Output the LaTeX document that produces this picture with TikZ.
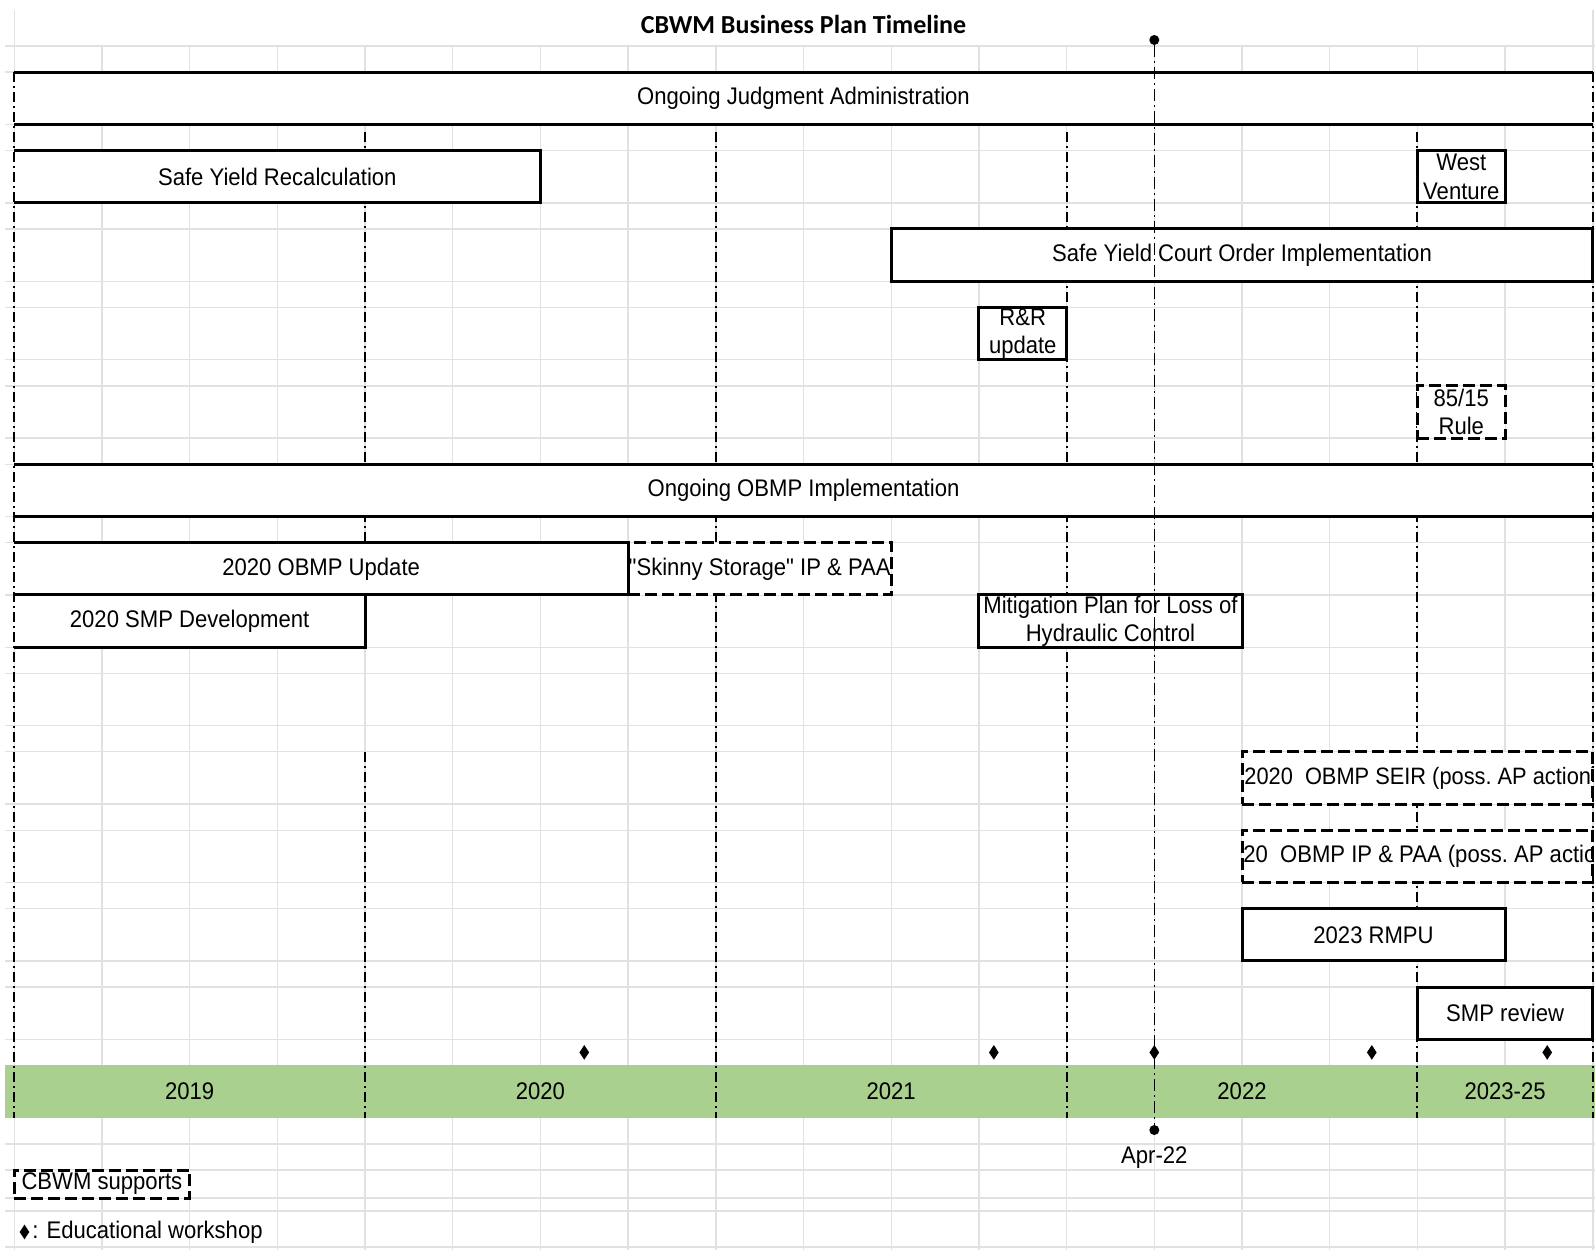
\documentclass[tikz,border=0pt]{standalone}
\usepackage{fontspec}
\setmainfont{Liberation Sans}
\newfontfamily\cellfont[FakeStretch=0.92]{Liberation Sans}
\newfontfamily\titlefont{Carlito}
\usetikzlibrary{positioning,shapes.geometric}
\definecolor{gridgray}{HTML}{E1E1E1}
\definecolor{bandgreen}{HTML}{A9D08E}
\tikzset{
  gridline/.style={draw=gridgray, line width=0.7pt},
  yearline/.style={line width=1pt, dash pattern=on 5pt off 2pt on 1pt off 2pt},
  nowline/.style={line width=0.6pt, dash pattern=on 6pt off 2pt on 1pt off 2pt},
  barline/.style={line width=1.5pt},
  txt/.style={font=\cellfont\fontsize{12}{14.2}\selectfont, inner sep=0pt},
  span/.style 2 args={minimum width=#1*43.85pt, minimum height=#2*13.07pt},
  bar/.style={draw, barline, fill=white, inner sep=0pt, outer sep=0pt, txt, align=center},
  cbwm/.style={bar, dash pattern=on 6pt off 2.5pt},
  openbar/.style={bar, draw=none},
  wshop/.style={diamond, fill=black, inner sep=0pt, minimum width=5pt, minimum height=7.5pt},
  nowdot/.style={circle, fill=black, inner sep=0pt, minimum size=5pt}
}

\begin{document}
\begin{tikzpicture}[x=43.85pt, y=-13.07pt]

\fill[white] (-0.162,-1.76) rectangle (18.025,46.06);
\useasboundingbox (-0.162,-1.76) rectangle (18.025,46.06);

% sheet grid
\foreach \c in {0,...,18}
  \draw[gridline] (\c,0) -- (\c,46.06);
\draw[gridline] (0,-1.38) -- (0,0) (18,-1.38) -- (18,0);
\foreach \r in {0,1,3,4,6,7,9,10,12,13,15,16,18,19,21,23,24,26,27,29,30,32,33,35,36,38,39,41,42,43,44.07,44.57,45.95}
  \draw[gridline] (-0.105,\r) -- (18.025,\r);

\node[font=\titlefont\bfseries\fontsize{13}{15}\selectfont] (title) at (9,-0.83) {CBWM Business Plan Timeline};

% years
\fill[bandgreen] (-0.105,39) rectangle (18.025,41);
\node[txt] (y2019) at (2,40) {2019};
\node[txt] (y2020) at (6,40) {2020};
\node[txt] (y2021) at (10,40) {2021};
\node[txt] (y2022) at (14,40) {2022};
\node[txt] (y2023) at (17,40) {2023-25};

\foreach \c in {8,12,16}
  \draw[yearline] (\c,3.3) -- (\c,41);
\draw[yearline] (4,3.3) -- (4,23) (4,27) -- (4,41);

% tasks
\node[openbar, span={18}{2}] (judg) at (9,2) {Ongoing Judgment Administration};
\node[openbar, span={6}{2}] (recalc) at (3,5) {Safe Yield Recalculation};
\node[bar, span={1}{2}] (westv) at (16.5,5) {West\\Venture};
\node[bar, span={8}{2}] (court) at (14,8) {Safe Yield Court Order Implementation};
\node[bar, span={1}{2}] (rnr) at (11.5,11) {R\&R\\update};
\node[cbwm, span={1}{2}] (rule) at (16.5,14) {85/15\\Rule};
\node[openbar, span={18}{2}] (obmpimp) at (9,17) {Ongoing OBMP Implementation};
\node[cbwm, span={3}{2}] (skinny) at (8.5,20) {"Skinny Storage" IP \& PAA};
\node[openbar, span={7}{2}] (obmpupd) at (3.5,20) {2020 OBMP Update};
\node[openbar, span={4}{2}] (smpdev) at (2,22) {2020 SMP Development};
\node[bar, span={3}{2}] (mitig) at (12.5,22) {Mitigation Plan for Loss of\\Hydraulic Control};
\node[cbwm, span={4}{2}] (seir) at (16,28) {};
\node[cbwm, span={4}{2}] (ippaa) at (16,31) {};
\node[bar, span={3}{2}] (rmpu) at (15.5,34) {2023 RMPU};
\node[bar, span={2}{2}] (smprev) at (17,37) {SMP review};

\draw[barline] (judg.north west) -- (judg.north east) (judg.south west) -- (judg.south east);
\draw[barline] (obmpimp.north west) -- (obmpimp.north east) (obmpimp.south west) -- (obmpimp.south east);
\draw[barline] (recalc.north west) -- (recalc.north east) -- (recalc.south east) -- (recalc.south west);
\draw[barline] (obmpupd.north west) -- (obmpupd.north east) -- (obmpupd.south east) -- (obmpupd.south west);
\draw[barline] (smpdev.north west) -- (smpdev.north east) -- (smpdev.south east) -- (smpdev.south west);

\begin{scope}
  \clip ([xshift=0.75pt,yshift=-0.75pt]seir.north west) rectangle ([xshift=-0.75pt,yshift=0.75pt]seir.south east);
  \node[txt, font=\cellfont\fontsize{11.85}{14.2}\selectfont, anchor=west] (seirtxt) at ([xshift=1pt]seir.west) {2020\ \ OBMP SEIR (poss.\ AP action)};
\end{scope}
\begin{scope}
  \clip ([xshift=0.75pt,yshift=-0.75pt]ippaa.north west) rectangle ([xshift=-0.75pt,yshift=0.75pt]ippaa.south east);
  \node[txt] (ippaatxt) at (ippaa.center) {2020\ \ OBMP IP \& PAA (poss.\ AP action)};
\end{scope}

\draw[yearline] (0,1) -- (0,41) (18,1) -- (18,41);

% workshops
\foreach \d [count=\i] in {6.5,11.17,13,15.48,17.48}
  \node[wshop] (ws\i) at (\d,38.5) {};

% Apr-22 marker
\node[nowdot] (nowtop) at (13,-0.23) {};
\node[nowdot] (nowbot) at (13,41.47) {};
\draw[nowline] (nowtop) -- (nowbot);
\node[txt] (nowlbl) at (13,42.54) {Apr-22};

% legend
\node[cbwm, span={2}{1.07}] (legcbwm) at (1,43.535) {CBWM supports};
\node[wshop] (legws) at (0.117,45.37) {};
\node[txt, right=1pt of legws] (legwstxt) {: Educational workshop};

\end{tikzpicture}
\end{document}
